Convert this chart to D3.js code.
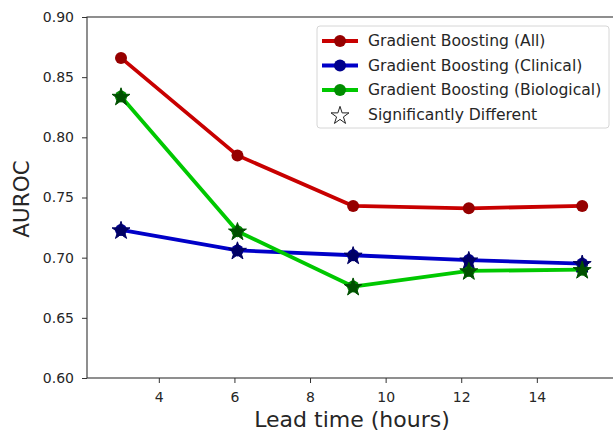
<!DOCTYPE html>
<html>
<head>
<meta charset="utf-8">
<script src="https://cdn.jsdelivr.net/npm/d3@7"></script>
<style>
  html, body { margin: 0; padding: 0; background: #fff; }
  svg { display: block; font-family: "DejaVu Sans", sans-serif; }
</style>
</head>
<body>
<svg id="chart" width="613" height="433"></svg>
<script>
// Lead times (hours) at which each model was evaluated
const leadTimes = [3.0, 6.08, 9.14, 12.2, 15.2];

// AUROC per model
const aurocAll        = [0.866, 0.785, 0.743, 0.741, 0.743];
const aurocClinical   = [0.723, 0.706, 0.702, 0.698, 0.695];
const aurocBiological = [0.834, 0.722, 0.676, 0.689, 0.690];

// Points flagged as significantly different (drawn with stars)
const sigClinical   = [true, true, true, true, true];
const sigBiological = [true, true, true, true, true];

const xTicks = [4, 6, 8, 10, 12, 14];
const yTicks = [0.60, 0.65, 0.70, 0.75, 0.80, 0.85, 0.90];

const seriesNames = ["Gradient Boosting (All)", "Gradient Boosting (Clinical)", "Gradient Boosting (Biological)"];
const sigLabel = "Significantly Different";

const series = [
  { name: seriesNames[0], values: aurocAll,        sig: null,          line: "#c80000", dot: "#960000", star: null },
  { name: seriesNames[1], values: aurocClinical,   sig: sigClinical,   line: "#0000c8", dot: "#00008c", star: "#000064" },
  { name: seriesNames[2], values: aurocBiological, sig: sigBiological, line: "#00c800", dot: "#008c00", star: "#005000" }
];

const svg = d3.select("#chart");
const plotL = 87, plotT = 17, plotB = 378, plotR = 620;

const x = d3.scaleLinear().domain([2.1, 16.2]).range([plotL, plotR]);
const y = d3.scaleLinear().domain([0.60, 0.90]).range([plotB, plotT]);

// axes
const xAxis = svg.append("g")
  .attr("transform", `translate(0,${plotB})`)
  .call(d3.axisBottom(x).tickValues(xTicks).tickFormat(d3.format("d")).tickSize(5).tickPadding(9));
const yAxis = svg.append("g")
  .attr("transform", `translate(${plotL},0)`)
  .call(d3.axisLeft(y).tickValues(yTicks).tickFormat(d3.format(".2f")).tickSize(5).tickPadding(8));

[xAxis, yAxis].forEach(g => {
  g.select(".domain").remove();
  g.selectAll("line").attr("stroke", "#333").attr("stroke-width", 1);
  g.selectAll("text").attr("fill", "#262626").style("font-size", "14px").style("font-family", "DejaVu Sans, sans-serif");
});

// frame
svg.append("rect")
  .attr("x", plotL).attr("y", plotT)
  .attr("width", plotR - plotL).attr("height", plotB - plotT)
  .attr("fill", "none").attr("stroke", "#333").attr("stroke-width", 1.1);

// axis titles
svg.append("text")
  .attr("x", 352).attr("y", 427)
  .attr("text-anchor", "middle")
  .style("font-size", "22px").attr("fill", "#262626")
  .text("Lead time (hours)");
svg.append("text")
  .attr("transform", `translate(28.5,199) rotate(-90)`)
  .attr("text-anchor", "middle")
  .style("font-size", "21.5px").attr("fill", "#262626")
  .text("AUROC");

const line = d3.line().x((d, i) => x(leadTimes[i])).y(d => y(d));
const starPath = d3.symbol().type(d3.symbolStar).size(100)();
const dotR = 6;

const plot = svg.append("g");

// lines and circle markers
series.forEach(s => {
  plot.append("path")
    .datum(s.values)
    .attr("d", line)
    .attr("fill", "none")
    .attr("stroke", s.line)
    .attr("stroke-width", 3.8)
    .attr("stroke-linejoin", "round")
    .attr("stroke-linecap", "butt");
  plot.selectAll(null)
    .data(s.values)
    .enter().append("circle")
    .attr("cx", (d, i) => x(leadTimes[i]))
    .attr("cy", d => y(d))
    .attr("r", dotR)
    .attr("fill", s.dot);
});

// significance stars on top
series.forEach(s => {
  if (!s.sig) return;
  plot.selectAll(null)
    .data(s.values.map((v, i) => ({ v, i })).filter(d => s.sig[d.i]))
    .enter().append("path")
    .attr("d", starPath)
    .attr("transform", d => `translate(${x(leadTimes[d.i])},${y(d.v) + 0.8})`)
    .attr("fill", s.star)
    .attr("stroke", s.star)
    .attr("stroke-width", 1)
    .attr("stroke-linejoin", "miter");
});

// legend
const lg = svg.append("g").attr("transform", "translate(317,26)");
lg.append("rect")
  .attr("x", 0).attr("y", 0).attr("width", 292).attr("height", 102)
  .attr("rx", 3).attr("fill", "#fff").attr("fill-opacity", 0.85)
  .attr("stroke", "#d6d6d6").attr("stroke-width", 1);

const rowY = [15, 39.5, 64, 89];
series.forEach((s, k) => {
  lg.append("line")
    .attr("x1", 5).attr("x2", 41).attr("y1", rowY[k]).attr("y2", rowY[k])
    .attr("stroke", s.line).attr("stroke-width", 3.8);
  lg.append("circle").attr("cx", 23).attr("cy", rowY[k]).attr("r", dotR).attr("fill", s.dot);
  lg.append("text")
    .attr("x", 51).attr("y", rowY[k]).attr("dy", "0.35em")
    .style("font-size", "15.6px").attr("fill", "#262626")
    .text(s.name);
});
lg.append("path")
  .attr("d", starPath)
  .attr("transform", `translate(23,${rowY[3] + 0.8})`)
  .attr("fill", "#fff").attr("stroke", "#222").attr("stroke-width", 1);
lg.append("text")
  .attr("x", 51).attr("y", rowY[3]).attr("dy", "0.35em")
  .style("font-size", "15.6px").attr("fill", "#262626")
  .text(sigLabel);
</script>
</body>
</html>
